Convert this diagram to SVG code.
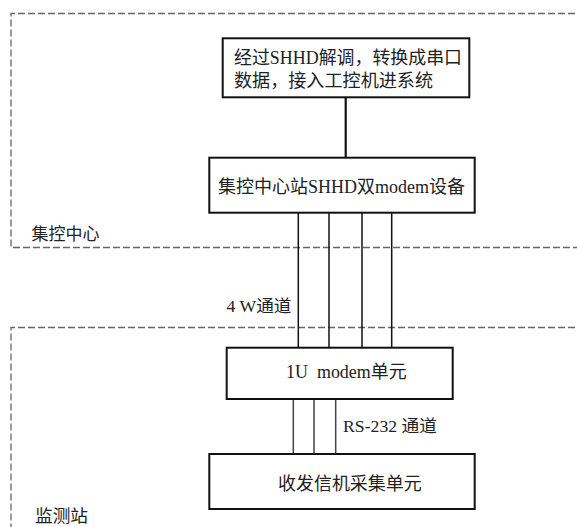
<svg xmlns="http://www.w3.org/2000/svg" width="577" height="527" viewBox="0 0 577 527">
<style>
.zone{fill:none;stroke:#666;stroke-width:1.3;stroke-dasharray:7 3}
.box{fill:#fff;stroke:#111;stroke-width:2}
.t{font-family:"Liberation Serif","Noto Sans CJK SC",serif;font-size:18px;fill:#222}
.lbl{font-family:"Liberation Serif","Noto Sans CJK SC",serif;font-size:17px;fill:#222}
.c{stroke:#111;stroke-width:1.5;fill:none}
</style>
<rect width="577" height="527" fill="#fff"/>
<g id="zone-center">
<path class="zone" d="M585 13.5 H11 V247.5 H585"/>
<text class="lbl" x="31.5" y="240" textLength="68" lengthAdjust="spacingAndGlyphs">集控中心</text>
</g>
<g id="zone-station">
<path class="zone" d="M585 327.5 H11 V535"/>
<text class="lbl" x="35" y="522" textLength="53" lengthAdjust="spacingAndGlyphs">监测站</text>
</g>
<g id="connectors">
<line class="c" x1="345.7" y1="97" x2="345.7" y2="158" style="stroke-width:2.2"/>
<line class="c" x1="298.3" y1="212" x2="298.3" y2="348"/>
<line class="c" x1="329" y1="212" x2="329" y2="348"/>
<line class="c" x1="362" y1="212" x2="362" y2="348"/>
<line class="c" x1="391.7" y1="212" x2="391.7" y2="348"/>
<line class="c" x1="293.3" y1="399" x2="293.3" y2="454" style="stroke:#444"/>
<line class="c" x1="314" y1="399" x2="314" y2="454" style="stroke:#444"/>
<line class="c" x1="335.7" y1="399" x2="335.7" y2="454" style="stroke:#444"/>
<text class="lbl" x="226.5" y="311.5" textLength="65" lengthAdjust="spacingAndGlyphs">4 W通道</text>
<text class="lbl" x="343" y="431.5" textLength="94" lengthAdjust="spacingAndGlyphs">RS-232 通道</text>
</g>
<g id="node-demod">
<rect class="box" x="222.7" y="38.3" width="246.6" height="59"/>
<text class="t" x="234" y="64" textLength="228" lengthAdjust="spacingAndGlyphs">经过SHHD解调，转换成串口</text>
<text class="t" x="234" y="87" textLength="199" lengthAdjust="spacingAndGlyphs">数据，接入工控机进系统</text>
</g>
<g id="node-dualmodem">
<rect class="box" x="209.3" y="157.7" width="265.4" height="55"/>
<text class="t" x="218" y="193" textLength="247" lengthAdjust="spacingAndGlyphs">集控中心站SHHD双modem设备</text>
</g>
<g id="node-1u">
<rect class="box" x="226.7" y="347.7" width="226" height="51.3"/>
<text class="t" x="286" y="378" xml:space="preserve" textLength="120.7" lengthAdjust="spacingAndGlyphs">1U  modem单元</text>
</g>
<g id="node-collect">
<rect class="box" x="209.3" y="454" width="265.4" height="55"/>
<text class="t" x="278" y="490" textLength="143.7" lengthAdjust="spacingAndGlyphs">收发信机采集单元</text>
</g>
</svg>
